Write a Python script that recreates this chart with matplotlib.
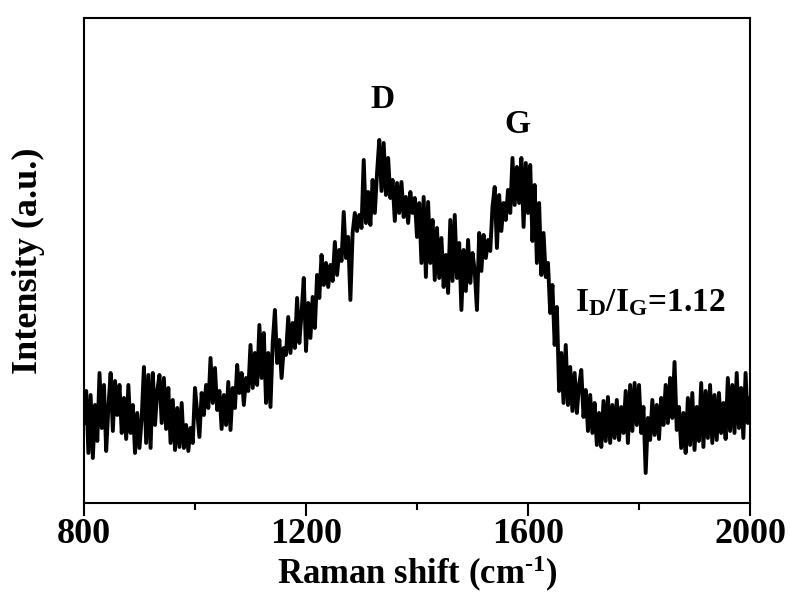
import numpy as np
import matplotlib
matplotlib.use('Agg')
import matplotlib.pyplot as plt
from matplotlib.ticker import MultipleLocator

plt.rcParams['font.family'] = 'Liberation Serif'
plt.rcParams['font.weight'] = 'bold'
plt.rcParams['mathtext.fontset'] = 'custom'
plt.rcParams['mathtext.rm'] = 'Liberation Serif:bold'
plt.rcParams['mathtext.it'] = 'Liberation Serif:bold'
plt.rcParams['mathtext.bf'] = 'Liberation Serif:bold'

# Raman shift grid (cm-1), one reading every 4 cm-1
shift = np.arange(800, 2001, 4)

# intensities (a.u.), in blocks
int_800_1000 = [80, 112, 50, 108, 45, 98, 62, 130, 75, 118, 52, 96, 130, 72, 122, 88, 118, 70, 105, 64,
                118, 70, 98, 50, 90, 55, 85, 136, 60, 128, 55, 130, 78, 112, 128, 80, 125, 74, 115, 60,
                103, 53, 95, 56, 100, 55, 78, 52, 75, 60, 115]
int_1004_1200 = [90, 66, 110, 88, 118, 95, 145, 100, 135, 93, 112, 74, 108, 78, 121, 73, 115, 95, 138, 110,
                 130, 98, 125, 112, 158, 115, 150, 118, 178, 125, 170, 100, 150, 96, 160, 193, 140, 163, 125, 155,
                 148, 186, 150, 180, 155, 205, 160, 190, 225, 152]
int_1204_1400 = [200, 165, 206, 175, 228, 205, 248, 218, 240, 216, 238, 222, 261, 228, 253, 242, 291, 245, 266, 203,
                 270, 290, 272, 288, 275, 343, 280, 311, 278, 323, 290, 330, 363, 312, 360, 308, 345, 305, 323, 282,
                 320, 290, 321, 286, 306, 280, 311, 290, 305, 266]
int_1404_1600 = [300, 240, 306, 226, 301, 240, 283, 223, 275, 225, 265, 216, 248, 210, 283, 222, 288, 225, 260, 193,
                 253, 212, 263, 220, 250, 232, 193, 270, 232, 268, 245, 263, 252, 296, 316, 255, 308, 272, 300, 283,
                 313, 290, 345, 298, 336, 300, 345, 276, 340, 290]
int_1604_1800 = [338, 262, 318, 240, 300, 228, 270, 226, 240, 190, 218, 158, 196, 112, 150, 100, 158, 98, 136, 92,
                 130, 90, 118, 133, 86, 113, 72, 108, 70, 100, 58, 90, 56, 102, 62, 106, 60, 98, 65, 103,
                 63, 96, 70, 112, 60, 118, 72, 120, 78, 118]
int_1804_2000 = [70, 96, 30, 85, 63, 103, 68, 98, 64, 105, 78, 118, 80, 125, 85, 141, 73, 96, 55, 90,
                 50, 105, 58, 110, 53, 96, 62, 120, 56, 112, 65, 118, 60, 108, 63, 110, 70, 100, 64, 125,
                 72, 118, 70, 130, 75, 115, 65, 130, 80, 105]

intensity = np.array(int_800_1000 + int_1004_1200 + int_1204_1400 +
                     int_1404_1600 + int_1604_1800 + int_1804_2000)

fig = plt.figure(figsize=(7.9, 5.99), dpi=100)
ax = fig.add_axes([0.1063, 0.1603, 0.8431, 0.8097])

ax.plot(shift, intensity, '-', color='black', linewidth=2.8)

ax.set_xlim(800, 2000)
ax.set_ylim(0, 485)
ax.xaxis.set_major_locator(MultipleLocator(400))
ax.xaxis.set_minor_locator(MultipleLocator(200))
ax.set_yticks([])
ax.tick_params(axis='x', which='major', direction='out', length=9, width=1.5, labelsize=26, pad=2)
ax.tick_params(axis='x', which='minor', direction='out', length=5, width=1.5)
for s in ax.spines.values():
    s.set_linewidth(1.5)

ax.set_xlabel(r'Raman shift (cm$^{\text{-1}}$)', fontsize=25, fontweight='bold', labelpad=2)
ax.set_ylabel('Intensity (a.u.)', fontsize=26, fontweight='bold', labelpad=28)

# peak labels
ax.text(1337, 403, 'D', fontsize=24, fontweight='bold', ha='center', va='center')
ax.text(1580, 378, 'G', fontsize=24, fontweight='bold', ha='center', va='center')
ax.text(1685, 192, r'I$_\mathrm{D}$/I$_\mathrm{G}$=1.12', fontsize=24, fontweight='bold',
        ha='left', va='baseline')

plt.savefig('out.png', dpi=100)
